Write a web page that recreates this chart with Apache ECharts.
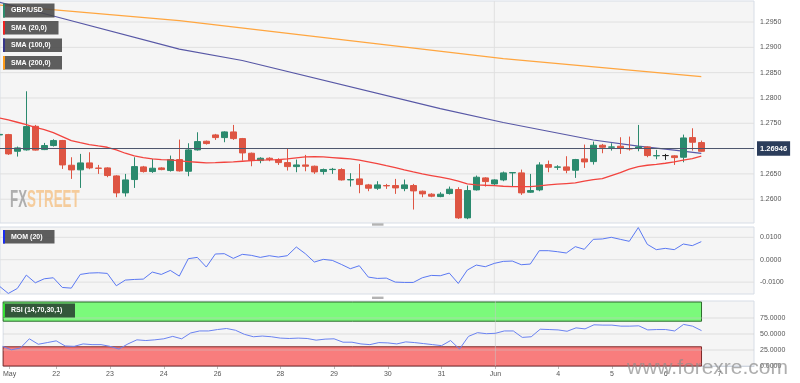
<!DOCTYPE html>
<html><head><meta charset="utf-8">
<script src="https://cdn.jsdelivr.net/npm/echarts@6/dist/echarts.min.js"></script>
<style>html,body{margin:0;padding:0;background:#fff}#c{width:800px;height:383px}</style>
</head><body><div id="c"></div>
<script>
// ---- data (4-hour candles, candle index starts at 1) ----
const firstIndex = 1;
const open  = [1.27270,1.27276,1.26947,1.26974,1.27440,1.26980,1.27060,1.27160,1.26671,1.26580,1.26717,1.26615,1.26618,1.26460,1.26125,1.26388,1.26638,1.26546,1.26618,1.26566,1.26783,1.26552,1.26974,1.27145,1.27270,1.27217,1.27329,1.27197,1.26908,1.26763,1.26809,1.26783,1.26723,1.26644,1.26677,1.26651,1.26546,1.26585,1.26585,1.26381,1.26401,1.26283,1.26217,1.26270,1.26270,1.26210,1.26270,1.26158,1.26099,1.26052,1.26112,1.26191,1.25631,1.26184,1.26421,1.26302,1.26381,1.26520,1.26520,1.26138,1.26184,1.26684,1.26631,1.26638,1.26572,1.26796,1.26743,1.27066,1.27026,1.27046,1.27000,1.27013,1.27033,1.26856,1.26862,1.26856,1.26829,1.27217,1.27118];
const close = [1.27280,1.26895,1.27013,1.27434,1.26970,1.27060,1.27158,1.26677,1.26579,1.26717,1.26618,1.26609,1.26467,1.26125,1.26381,1.26644,1.26546,1.26612,1.26585,1.26783,1.26559,1.26974,1.27138,1.27099,1.27217,1.27329,1.27197,1.26914,1.26763,1.26809,1.26783,1.26723,1.26644,1.26677,1.26651,1.26539,1.26585,1.26591,1.26381,1.26388,1.26289,1.26217,1.26283,1.26263,1.26223,1.26283,1.26164,1.26105,1.26059,1.26099,1.26197,1.25631,1.26171,1.26434,1.26348,1.26381,1.26520,1.26526,1.26125,1.26171,1.26677,1.26631,1.26638,1.26572,1.26783,1.26737,1.27066,1.27026,1.27033,1.27006,1.26993,1.27033,1.26862,1.26862,1.26862,1.26822,1.27210,1.27125,1.26946];
const low   = [1.27255,1.26875,1.26842,1.26960,1.26960,1.26970,1.27040,1.26598,1.26401,1.26223,1.26592,1.26500,1.26434,1.26039,1.26052,1.26223,1.26526,1.26520,1.26572,1.26546,1.26546,1.26454,1.26960,1.27079,1.27171,1.27125,1.27171,1.26763,1.26651,1.26710,1.26750,1.26677,1.26566,1.26533,1.26552,1.26500,1.26487,1.26500,1.26368,1.26250,1.26118,1.26158,1.26184,1.26204,1.26105,1.26158,1.25796,1.26039,1.26039,1.26039,1.26092,1.25611,1.25605,1.26171,1.26250,1.26283,1.26355,1.26257,1.26085,1.26125,1.26158,1.26533,1.26579,1.26513,1.26421,1.26618,1.26684,1.26908,1.26960,1.26895,1.26960,1.26947,1.26829,1.26790,1.26776,1.26677,1.26730,1.26960,1.26935];
const high  = [1.27295,1.27290,1.27040,1.28132,1.27467,1.27112,1.27184,1.27171,1.26829,1.26895,1.26927,1.26677,1.26631,1.26474,1.26500,1.26829,1.26658,1.26796,1.26631,1.26862,1.27178,1.27105,1.27322,1.27158,1.27290,1.27342,1.27467,1.27210,1.26921,1.26829,1.26829,1.26809,1.27010,1.26783,1.26875,1.26664,1.26605,1.26618,1.26612,1.26513,1.26697,1.26302,1.26355,1.26302,1.26401,1.26388,1.26302,1.26171,1.26118,1.26138,1.26250,1.26237,1.26270,1.26467,1.26434,1.26394,1.26546,1.26533,1.26585,1.26500,1.26730,1.26763,1.26671,1.26849,1.26796,1.27079,1.27138,1.27092,1.27105,1.27224,1.27237,1.27467,1.27046,1.26974,1.26895,1.26869,1.27276,1.27401,1.27158];
const sma20 = [1.27605,1.27566,1.27520,1.27474,1.27421,1.27375,1.27316,1.27237,1.27158,1.27118,1.27079,1.27052,1.27026,1.26974,1.26908,1.26855,1.26822,1.26796,1.26783,1.26776,1.26756,1.26743,1.26730,1.26717,1.26723,1.26730,1.26737,1.26750,1.26763,1.26770,1.26776,1.26783,1.26796,1.26816,1.26835,1.26842,1.26835,1.26822,1.26809,1.26796,1.26770,1.26737,1.26704,1.26664,1.26625,1.26579,1.26539,1.26500,1.26467,1.26434,1.26401,1.26355,1.26302,1.26283,1.26276,1.26270,1.26256,1.26250,1.26250,1.26250,1.26263,1.26283,1.26296,1.26309,1.26322,1.26355,1.26388,1.26408,1.26467,1.26526,1.26592,1.26644,1.26671,1.26690,1.26710,1.26737,1.26770,1.26802,1.26849];
const sma100Idx = [1,7,21,28,50,57,67,72,76,79];
const sma100    = [1.29891,1.29618,1.28963,1.28740,1.27788,1.27515,1.27169,1.27047,1.26968,1.26907];
const sma200Idx = [1,21,57,79];
const sma200    = [1.29836,1.29528,1.28777,1.28420];
const mom = [-0.01179,-0.01507,-0.01284,-0.00687,-0.01030,-0.00851,-0.00806,-0.01239,-0.01269,-0.00657,-0.00597,-0.00582,-0.00612,-0.01164,-0.00910,-0.00881,-0.00866,-0.00552,-0.00657,-0.00478,-0.00731,0.00045,0.00104,-0.00328,0.00254,0.00269,0.00060,0.00239,0.00194,0.00104,0.00179,0.00119,0.00179,0.00567,0.00269,-0.00104,0.00015,-0.00030,-0.00209,-0.00403,-0.00269,-0.00776,-0.00836,-0.00821,-0.01000,-0.01015,-0.01015,-0.00806,-0.00701,-0.00716,-0.00597,-0.01060,-0.00463,-0.00239,-0.00313,-0.00164,-0.00075,-0.00060,-0.00224,-0.00194,0.00403,0.00403,0.00358,0.00299,0.00582,0.00463,0.00910,0.00925,0.01000,0.00910,0.00821,0.01433,0.00687,0.00448,0.00507,0.00448,0.00701,0.00627,0.00806];
const rsi = [30.7,25.4,28.1,42.5,34.0,36.6,39.3,31.3,30.7,34.5,33.4,33.4,30.7,26.5,34.5,40.9,39.8,40.9,42.5,46.3,42.5,51.6,54.8,54.8,57.0,58.6,55.9,49.5,45.7,46.8,45.7,43.6,43.0,43.6,43.0,40.4,42.0,42.5,37.2,37.2,34.5,33.4,36.6,36.1,34.5,37.7,36.6,35.0,33.4,31.8,39.8,26.5,46.3,52.1,50.5,51.1,54.8,54.8,44.7,45.7,57.5,57.0,56.4,54.3,59.6,58.0,64.4,63.9,63.9,62.3,62.3,62.8,56.4,57.0,57.0,54.8,65.0,62.3,55.3];
const lastPrice = 1.26946;
const priceTicks = [1.26,1.265,1.27,1.275,1.28,1.285,1.29,1.295];
const priceLabels = [1.26,1.265,1.275,1.28,1.285,1.29,1.295];
const momTicks = [-0.01,0,0.01];
const rsiTicks = [0,25,50,75];
const rsiGrid = [25,50,75];
const rsiUpper = 70, rsiLower = 30;
const dateLabels = ['May','22','23','24','26','28','29','30','31','Jun','4','5','6','7'];
const dateLabelIdx = [1.8,7,13,19,25,32,38,44,50,56,63,69,75,81];
const monthStartIdx = 56;

// ---- chart ----
const FONT = 'Liberation Sans, Arial, sans-serif';
const xMin = 1.078, xMax = 84.856;
const yRange = [[1.25530, 1.29915], [-0.01531, 0.0146], [0, 101.6]];
const lastIdx = firstIndex + open.length - 1;
const idx = k => k + firstIndex;
const gridBox = {show:true, backgroundColor:'#f5f5f5', borderColor:'#d7dde6', borderWidth:1, left:0, width:754};
const axisLblStyle = {color:'#555', fontSize:7, fontFamily:FONT};

function xAx(gi, showLabels){
  return {type:'value', gridIndex:gi, min:xMin, max:xMax,
    axisLine:{show:showLabels, onZero:false, lineStyle:{color:'#cfd5df'}},
    axisTick:{show:showLabels, length:3, customValues:dateLabelIdx, lineStyle:{color:'#bbb'}},
    splitLine:{show:false},
    axisLabel:{show:showLabels, customValues:dateLabelIdx, margin:5, ...axisLblStyle,
      formatter:v=>{const j=dateLabelIdx.findIndex(d=>Math.abs(d-v)<1e-6);return j<0?'':dateLabels[j];}}};
}
function yAx(gi,ticks,labels){
  return {type:'value', gridIndex:gi, position:'right', min:yRange[gi][0], max:yRange[gi][1], scale:true,
    axisLine:{show:false, onZero:false},
    axisTick:{show:false},
    splitLine:{show:false},
    axisLabel:{show:true, customValues:labels, margin:6, ...axisLblStyle, formatter:v=>v.toFixed(4)}};
}
// light grid lines drawn as plain two-point line series
const gridColor = '#e0e0e0';
function gridSeries(gi, vals){
  const s = vals.map(v=>({type:'line', xAxisIndex:gi, yAxisIndex:gi, z:0, symbol:'none', silent:true,
    data:[[xMin,v],[xMax,v]], lineStyle:{color:gridColor, width:1}}));
  s.push({type:'line', xAxisIndex:gi, yAxisIndex:gi, z:0, symbol:'none', silent:true,
    data:[[monthStartIdx,yRange[gi][0]],[monthStartIdx,yRange[gi][1]]], lineStyle:{color:gridColor, width:1}});
  return s;
}

function legendBox(x,y,w,h,strip,text,bg){
  return [
    {type:'rect', z:100, shape:{x:x,y:y,width:w,height:h}, style:{fill:bg}},
    {type:'rect', z:101, shape:{x:x,y:y,width:2,height:h}, style:{fill:strip}},
    {type:'text', z:102, x:x+8, y:y+h/2, style:{text:text, fill:'#fff', font:'bold 7px '+FONT, verticalAlign:'middle', align:'left'}}
  ];
}
const graphics = [].concat(
  legendBox(3,3.5,51.5,14,'#2c8a6c','GBP/USD','rgba(72,72,72,0.88)'),
  legendBox(3,21,55.5,13.5,'#ee2222','SMA (20,0)','rgba(72,72,72,0.88)'),
  legendBox(3,38.5,59,13.5,'#35358a','SMA (100,0)','rgba(72,72,72,0.88)'),
  legendBox(3,56,59,13.5,'#ff9c1a','SMA (200,0)','rgba(72,72,72,0.88)'),
  legendBox(3,230,51.5,13.5,'#1a2cf0','MOM (20)','rgba(72,72,72,0.88)'),
  legendBox(3,303.5,72,14,'#33dd33','RSI (14,70,30,1)','#33573a'),
  [
    {type:'rect', z:100, shape:{x:372,y:223.3,width:11.5,height:2.4}, style:{fill:'#b3b3b3'}},
    {type:'rect', z:100, shape:{x:372,y:296.6,width:11.5,height:2.4}, style:{fill:'#b3b3b3'}},
    {type:'group', z:90, x:10, y:189, scaleX:0.58, children:[
      {type:'text', z:90, x:0, y:0, style:{text:'FX', fill:'rgba(150,150,150,0.75)', font:'bold 23px '+FONT, verticalAlign:'top'}},
      {type:'text', z:90, x:29.3, y:0, style:{text:'STREET', fill:'rgba(244,190,125,0.75)', font:'bold 23px '+FONT, verticalAlign:'top'}}
    ]},
    {type:'text', z:120, x:627, y:368.5, style:{text:'www.forexre.com', fill:'rgba(140,140,140,0.7)', font:'21px '+FONT, verticalAlign:'middle', align:'left'}}
  ]
);

const series = [].concat(
  gridSeries(0, priceTicks),
  gridSeries(1, momTicks),
  [
    {type:'line', xAxisIndex:0, yAxisIndex:0, z:1, symbol:'none', silent:true,
      data:sma200.map((v,k)=>[sma200Idx[k],v]), lineStyle:{color:'#ffa640', width:1.2}},
    {type:'line', xAxisIndex:0, yAxisIndex:0, z:1, symbol:'none', silent:true,
      data:sma100.map((v,k)=>[sma100Idx[k],v]), lineStyle:{color:'#5858a6', width:1.2}},
    {type:'candlestick', xAxisIndex:0, yAxisIndex:0, z:2, barWidth:7, silent:true,
      encode:{x:0, y:[1,2,3,4]},
      data:open.map((o,k)=>[idx(k), o, close[k], low[k], high[k]]),
      itemStyle:{color:'#2b8a6e', color0:'#de5543', borderColor:'#2b8a6e', borderColor0:'#de5543', borderColorDoji:'#222', borderWidth:1},
      markLine:{silent:true, symbol:['none','none'], data:[{yAxis:lastPrice}],
        lineStyle:{color:'#4d566d', width:1.2, type:'solid'},
        label:{show:true, position:'end', distance:3, formatter:lastPrice.toFixed(5), color:'#fff',
          backgroundColor:'#2b3d5b', fontSize:7.5, fontWeight:'bold', fontFamily:FONT, padding:[3.5,3,3,3]}}},
    {type:'line', xAxisIndex:0, yAxisIndex:0, z:3, symbol:'none', silent:true,
      data:sma20.map((v,k)=>[idx(k),v]), lineStyle:{color:'#f2443f', width:1.3}},
    {type:'line', xAxisIndex:1, yAxisIndex:1, z:3, symbol:'none', silent:true,
      data:mom.map((v,k)=>[idx(k),v]), lineStyle:{color:'#5a78f2', width:1}},
    // RSI zones
    {type:'line', xAxisIndex:2, yAxisIndex:2, z:0, symbol:'none', silent:true,
      data:rsi.map((v,k)=>[idx(k),v]), lineStyle:{opacity:0},
      markArea:{silent:true, data:[
        [{xAxis:xMin, yAxis:rsiUpper, itemStyle:{color:'#7bfa7b', borderColor:'#2d6b2d', borderWidth:1}}, {xAxis:lastIdx, yAxis:100}],
        [{xAxis:xMin, yAxis:0, itemStyle:{color:'#f87d7d', borderColor:'#7d2a2a', borderWidth:1}}, {xAxis:lastIdx, yAxis:rsiLower}]
      ]}}
  ],
  gridSeries(2, rsiGrid).map(s=>Object.assign(s,{z:1, lineStyle:{color:'rgba(200,200,200,0.55)', width:1}})),
  [
    {type:'line', xAxisIndex:2, yAxisIndex:2, z:5, symbol:'none', silent:true,
      data:rsi.map((v,k)=>[idx(k),v]), lineStyle:{color:'#6a82f0', width:1}}
  ]
);

const chart = echarts.init(document.getElementById('c'), null, {renderer:'canvas'});
chart.setOption({
  animation:false,
  backgroundColor:'#fff',
  grid:[
    {...gridBox, top:1, height:222},
    {...gridBox, top:227, height:67},
    {...gridBox, top:301, height:65}
  ],
  xAxis:[xAx(0,false), xAx(1,false), xAx(2,true)],
  yAxis:[
    yAx(0, priceTicks, priceLabels),
    yAx(1, momTicks, momTicks),
    yAx(2, rsiTicks, rsiTicks)
  ],
  series:series,
  graphic:graphics
});
</script></body></html>
